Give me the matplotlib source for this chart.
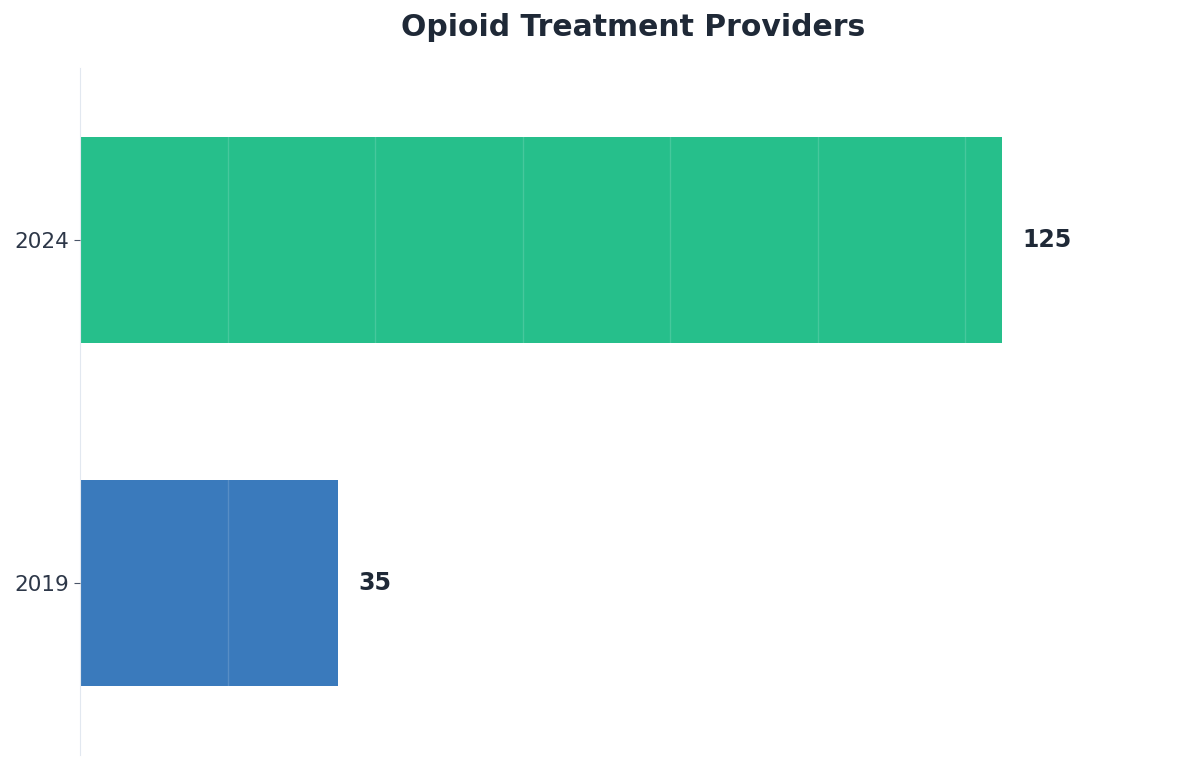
import matplotlib.pyplot as plt

# Данные
years = ['2019', '2024']
providers = [35, 125]
colors = ['#3a7abc', '#26bf8b']

fig = plt.figure(figsize=(12, 7.68), dpi=100)
ax = fig.add_axes([0.0667, 0.017, 0.922, 0.8945])

bars = ax.barh(years, providers, height=0.6, color=colors, zorder=1)

# Подписи значений
for bar, val in zip(bars, providers):
    ax.text(bar.get_width() + 2.7, bar.get_y() + bar.get_height() / 2, f'{val}',
            va='center', ha='left', fontsize=17, fontweight='bold', color='#1f2937')

ax.set_xlim(0, 150)
ax.set_ylim(-0.5, 1.5)
ax.set_xticks(range(20, 141, 20))
ax.tick_params(axis='x', bottom=False, labelbottom=False)
ax.tick_params(axis='y', labelsize=15.5, labelcolor='#2d3748', color='#4a5568', length=4, pad=4)
ax.grid(True, axis='x', color='white', alpha=0.15, linestyle='-', linewidth=1, zorder=2)
ax.set_axisbelow(False)

for side in ['top', 'right', 'bottom']:
    ax.spines[side].set_visible(False)
ax.spines['left'].set_color('#e2e8f0')

ax.set_title('Opioid Treatment Providers', fontsize=21.5, fontweight='bold',
             color='#1f2937', pad=23)

plt.savefig('out.png', dpi=100)
